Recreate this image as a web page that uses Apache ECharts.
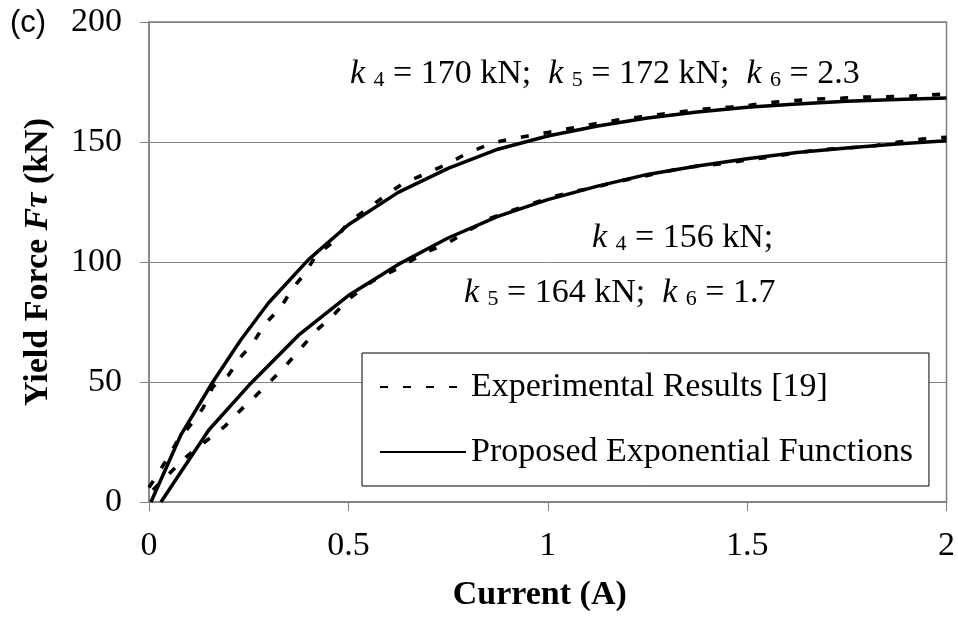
<!DOCTYPE html>
<html>
<head>
<meta charset="utf-8">
<script src="https://cdn.jsdelivr.net/npm/echarts@6/dist/echarts.min.js"></script>
<style>
html,body{margin:0;padding:0;background:#fff;}
#chart{width:958px;height:618px;}
</style>
</head>
<body>
<div id="chart"></div>
<script>
// ---- data ----
var xTicks = [0, 0.5, 1, 1.5, 2];
var yTicks = [0, 50, 100, 150, 200];

var expUpper = [[0,6],[0.04,16.5],[0.07,25],[0.108,33],[0.135,39],[0.16,48],[0.2,53],[0.233,61],[0.26,66],[0.29,74],[0.33,81],[0.36,89],[0.39,95],[0.42,103],[0.46,108],[0.5,116.5],[0.55,122.5],[0.6,128.5],[0.64,133],[0.69,136.5],[0.75,141],[0.8,145.5],[0.86,149.5],[0.9,151],[0.95,152.5],[1.0,154],[1.05,155.5],[1.1,157],[1.17,159],[1.23,160.4],[1.29,161.7],[1.34,162.7],[1.4,163.8],[1.46,164.6],[1.51,165.4],[1.57,166.6],[1.63,167.4],[1.68,167.9],[1.74,168.3],[1.79,168.7],[1.85,168.8],[1.91,169.1],[1.96,169.6],[2.0,170]];

var expLower = [[0.01,5],[0.058,13],[0.095,19],[0.14,25],[0.19,31.5],[0.24,40],[0.26,43],[0.3,49.6],[0.336,55.5],[0.378,63.5],[0.42,71.5],[0.456,76.7],[0.5,84.5],[0.56,92],[0.62,97],[0.69,103.7],[0.75,108],[0.8,113],[0.86,118.5],[0.92,122],[1.0,126.5],[1.055,129],[1.11,130.8],[1.17,133.3],[1.23,135.4],[1.29,137.5],[1.35,139.5],[1.44,141],[1.5,142.5],[1.56,143.8],[1.62,145.4],[1.68,146.7],[1.75,147.5],[1.81,148.2],[1.88,150],[1.94,151.2],[2.0,152]];

var fitUpper = [[0.005,0],[0.08,28],[0.16,50],[0.23,67.5],[0.3,83],[0.4,101],[0.5,115.5],[0.625,129],[0.75,139],[0.875,147],[1.0,152.5],[1.125,156.7],[1.25,160],[1.375,162.5],[1.5,164.5],[1.625,165.8],[1.75,167],[1.875,167.7],[2.0,168.3]];

var fitLower = [[0.03,0],[0.1,17.5],[0.15,30],[0.25,48.5],[0.375,69.5],[0.5,86],[0.625,99],[0.75,110],[0.875,119],[1.0,126],[1.125,131.6],[1.25,136.5],[1.375,140],[1.5,143],[1.625,145.6],[1.75,147.5],[1.875,149.2],[2.0,150.5]];

var legendNames = ['Experimental Results [19]', 'Proposed Exponential Functions'];
var annotUpper = ['4', '170', '5', '172', '6', '2.3'];
var annotLower = ['4', '156', '5', '164', '6', '1.7'];

// ---- chart ----
var SERIF = '"Liberation Serif", "Times New Roman", serif';
var FS = 34;
var chart = echarts.init(document.getElementById('chart'), null, {renderer: 'canvas'});

var richK = {
  k: {fontFamily: SERIF, fontStyle: 'italic', fontSize: FS, color: '#000'},
  s: {fontFamily: SERIF, fontSize: 22, color: '#000', verticalAlign: 'bottom'},
  t: {fontFamily: SERIF, fontSize: FS, color: '#000'}
};

var option = {
  animation: false,
  backgroundColor: '#fff',
  grid: {left: 149, right: 11, top: 22, bottom: 116, show: true, borderColor: '#808080', borderWidth: 1.5, backgroundColor: 'transparent'},
  xAxis: {
    type: 'value', min: xTicks[0], max: xTicks[xTicks.length - 1], interval: 0.5,
    axisLine: {lineStyle: {color: '#808080', width: 1.5}},
    axisTick: {show: true, inside: false, length: 9, lineStyle: {color: '#808080'}},
    axisLabel: {color: '#000', fontFamily: SERIF, fontSize: FS, margin: 27},
    splitLine: {show: false},
    name: 'Current (A)', nameLocation: 'middle', nameGap: 76,
    nameTextStyle: {color: '#000', fontFamily: SERIF, fontSize: FS, fontWeight: 'bold', padding: [0, 16, 0, 0]}
  },
  yAxis: {
    type: 'value', min: yTicks[0], max: yTicks[yTicks.length - 1], interval: 50,
    axisLine: {show: true, lineStyle: {color: '#808080', width: 1.5}},
    axisTick: {show: true, inside: false, length: 9, lineStyle: {color: '#808080'}},
    axisLabel: {color: '#000', fontFamily: SERIF, fontSize: FS, margin: 27},
    splitLine: {show: true, lineStyle: {color: '#808080', width: 1}},
    name: '{b|Yield Force }{f|F}{g|τ}{b| (kN)}', nameLocation: 'middle', nameGap: 94, nameRotate: 90,
    nameTextStyle: {
      rich: {
        b: {fontFamily: SERIF, fontSize: FS, fontWeight: 'bold', color: '#000'},
        f: {fontFamily: SERIF, fontSize: FS, fontWeight: 'bold', fontStyle: 'italic', color: '#000'},
        g: {fontFamily: SERIF, fontSize: FS, fontWeight: 'bold', fontStyle: 'italic', color: '#000', verticalAlign: 'bottom'}
      }
    }
  },
  legend: {
    orient: 'vertical', left: 362, top: 353,
    data: legendNames,
    itemWidth: 86, itemHeight: 14, itemGap: 31,
    padding: [17, 16, 17, 17],
    backgroundColor: '#fff', borderColor: '#000', borderWidth: 1,
    itemStyle: {color: 'rgba(0,0,0,0)', borderColor: 'rgba(0,0,0,0)', borderWidth: 0},
    textStyle: {color: '#000', fontFamily: SERIF, fontSize: FS}
  },
  series: [
    {name: legendNames[0], type: 'line', data: expUpper, symbol: 'none', lineStyle: {color: '#000', width: 3.6, type: [8, 15], cap: 'butt'}, itemStyle: {color: '#000'}, z: 2},
    {name: legendNames[0], type: 'line', data: expLower, symbol: 'none', lineStyle: {color: '#000', width: 3.6, type: [8, 15], cap: 'butt'}, itemStyle: {color: '#000'}, z: 2},
    {name: legendNames[1], type: 'line', data: fitUpper, symbol: 'none', lineStyle: {color: '#000', width: 3.5}, itemStyle: {color: '#000'}, z: 3},
    {name: legendNames[1], type: 'line', data: fitLower, symbol: 'none', lineStyle: {color: '#000', width: 3.5}, itemStyle: {color: '#000'}, z: 3}
  ],
  graphic: [
    {type: 'text', left: 10, top: 8, style: {text: '(c)', fontFamily: '"Liberation Sans", Arial, sans-serif', fontSize: 31, fill: '#000'}},
    {type: 'text', left: 350, top: 57, style: {
      text: '{k|k }{s|' + annotUpper[0] + '}{t| = ' + annotUpper[1] + ' kN;  }{k|k }{s|' + annotUpper[2] + '}{t| = ' + annotUpper[3] + ' kN;  }{k|k }{s|' + annotUpper[4] + '}{t| = ' + annotUpper[5] + '}',
      rich: richK}},
    {type: 'text', left: 592, top: 221, style: {
      text: '{k|k }{s|' + annotLower[0] + '}{t| = ' + annotLower[1] + ' kN;}',
      rich: richK}},
    {type: 'text', left: 464, top: 276, style: {
      text: '{k|k }{s|' + annotLower[2] + '}{t| = ' + annotLower[3] + ' kN;  }{k|k }{s|' + annotLower[4] + '}{t| = ' + annotLower[5] + '}',
      rich: richK}}
  ]
};
chart.setOption(option);
</script>
</body>
</html>
